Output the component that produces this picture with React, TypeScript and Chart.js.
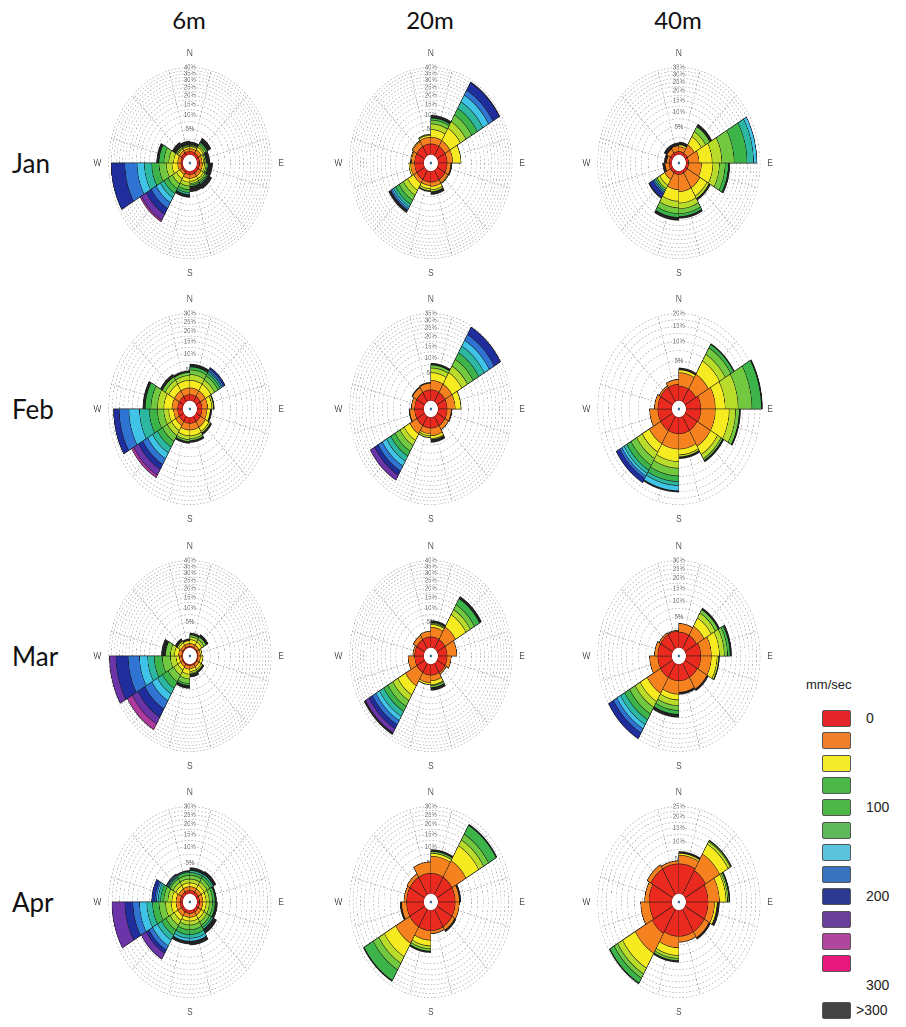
import React, { useEffect, useRef } from 'react';
import { Chart, registerables, RadialLinearScale } from 'chart.js';

// Radial axis whose radius grows with the square root of the frequency (area-true wind rose)
class SqrtRadialScale extends RadialLinearScale {
  static id = 'radialSqrt';
  getDistanceFromCenterForValue(value: number) {
    if (value === null || isNaN(value)) return NaN;
    const range = this.max - this.min || 1;
    const t = Math.max(0, (value - this.min) / range);
    return this.drawingArea * Math.sqrt(t);
  }
  getValueForDistanceFromCenter(distance: number) {
    const t = distance / (this.drawingArea || 1);
    return this.min + t * t * (this.max - this.min);
  }
}
Chart.register(...registerables, SqrtRadialScale);

// ---------------- data ----------------
const MONTHS = ['Jan', 'Feb', 'Mar', 'Apr'];
const DEPTHS = ['6m', '20m', '40m'];
const SECTORS = ['0-30', '30-60', '60-90', '90-120', '120-150', '150-180', '180-210', '210-240', '240-270', '270-300', '300-330', '330-360'];
const DIRECTION_LABELS = ['N', '', '', '', '', '', 'E', '', '', '', '', '', 'S', '', '', '', '', '', 'W', '', '', '', '', ''];
const SPEED_BINS = ['0-25', '25-50', '50-75', '75-100', '100-125', '125-150', '150-175', '175-200', '200-225', '225-250', '250-275', '275-300', '>300'];
const BIN_COLORS = ['#ea2a1e', '#f5821f', '#f6ea20', '#b9dc2b', '#72c83e', '#3cb44a', '#2bb7a0', '#3fc3e6', '#2f74d3', '#1f2e9c', '#6b34a8', '#ad3a9f', '#222222'];
const LEGEND_COLORS = ['#e4232b', '#f07f2b', '#f2ec2a', '#4db848', '#4db848', '#5cb85a', '#5bc3dc', '#3873c0', '#2c3b91', '#6a3f99', '#b0479c', '#e7197d', '#444444'];
const LEGEND_TICKS = ['0', '', '', '', '100', '', '', '', '200', '', '', '', '>300'];
const FREQ_MAX = [[40, 40, 35], [30, 35, 20], [40, 40, 30], [30, 30, 25]];
const GRID_STEP = 2.5;
const LABEL_STEP = 5;

// frequency (%) per sector (rows) and speed bin (columns)
const JAN_6M = [
  [0.58, 0.32, 0.26, 0.14, 0.15, 0, 0, 0, 0, 0, 0, 0, 0.49],
  [0.58, 0.45, 0.42, 0.32, 0.35, 0.38, 0, 0, 0, 0, 0, 0, 1.1],
  [0.58, 0.32, 0.26, 0.21, 0.23, 0, 0, 0, 0, 0, 0, 0, 0.8],
  [0.58, 0.39, 0.33, 0.3, 0.25, 0.18, 0, 0, 0, 0, 0, 0, 1.11],
  [0.58, 0.45, 0.42, 0.4, 0.36, 0.29, 0.2, 0, 0, 0, 0, 0, 1.14],
  [0.58, 0.45, 0.42, 0.4, 0.27, 0.29, 0, 0, 0, 0, 0, 0, 1.2],
  [0.58, 0.45, 0.58, 0.7, 0.83, 0.71, 0.51, 0, 0, 0, 0, 0, 0.83],
  [0.48, 0.3, 0.66, 1.06, 1.34, 1.63, 1.58, 2.16, 2.88, 3.28, 3.67, 1.12],
  [0.48, 0.42, 1.04, 1.43, 2.41, 3.06, 3.71, 4.36, 8.7, 12.04],
  [0.48, 0.42, 0.7, 1.1, 1.39, 1.68, 0, 0, 0, 0, 0, 0, 0.95],
  [0.58, 0.32, 0.26, 0.21, 0.23, 0, 0, 0, 0, 0, 0, 0, 0.9],
  [0.58, 0.32, 0.26, 0.14, 0.15, 0, 0, 0, 0, 0, 0, 0, 0.67],
];
const JAN_20M = [
  [1.6, 1.32, 1.98, 1.82, 1.38, 0.74, 0, 0, 0, 0, 0, 0, 1.16],
  [1.6, 1.32, 4.14, 2.94, 3.46, 3.97, 4.48, 4.99, 4.08, 6.92, 0, 0, 0.52],
  [1.6, 1.32, 2.56],
  [1.6, 0.8, 0.1, 0, 0, 0, 0, 0, 0, 0, 0, 0, 0.2],
  [1.6, 0.7, 0.2],
  [1.6, 0.8, 0.74, 0.46, 0, 0, 0, 0, 0, 0, 0, 0, 0.76],
  [1.6, 0.61, 0.71, 0.45, 0, 0, 0, 0, 0, 0, 0, 0, 0.24],
  [1.6, 0.8, 1.96, 1.73, 2.02, 1.9, 1.24, 0.86, 0.9, 0, 0, 0, 1.4],
  [1.6, 0.9, 0.42],
  [1.6, 0.7, 0.2],
  [1.6, 1.1, 0.21],
  [1.6, 1.32, 0.45, 0.24],
];
const JAN_40M = [
  [0.5, 0.51, 0.25, 0, 0, 0, 0, 0, 0, 0, 0, 0, 0.43],
  [0.5, 1.19, 1.89, 1.47, 1.72, 0, 0, 0, 0, 0, 0, 0, 0.96],
  [0.5, 1.69, 3.7, 3.95, 6.35, 8.51, 4.93, 2.63],
  [0.5, 2.24, 3.43, 2.58, 2.62, 1.65, 0, 0, 0, 0, 0, 0, 0.87],
  [0.5, 2.65, 2.45, 0.87, 0, 0, 0, 0, 0, 0, 0, 0, 0.62],
  [0.5, 2.65, 3.02, 1.89, 1.77, 1.14, 0, 0, 0, 0, 0, 0, 0.8],
  [0.5, 2.24, 2.86, 2.13, 2.1, 1.54, 0, 0, 0, 0, 0, 0, 1.23],
  [0.5, 0.9, 1.15, 0.81, 0.45, 0, 0.48, 0, 0.5, 1.38, 0, 0, 0.3],
  [0.5, 0.51, 0, 0, 0, 0, 0, 0, 0, 0, 0, 0, 0.39],
  [0.5, 0.28, 0, 0, 0, 0, 0, 0, 0, 0, 0, 0, 0.35],
  [0.5, 0.51, 0, 0, 0, 0, 0, 0, 0, 0, 0, 0, 0.53],
  [0.5, 0.63, 0, 0, 0, 0, 0, 0, 0, 0, 0, 0, 0.41],
];
const FEB_6M = [
  [0.68, 0.78, 1.25, 1.19, 1.16, 0.77, 0, 0, 0, 0, 0, 0, 0.82],
  [0.68, 0.78, 1.25, 0.98, 1.13, 0.75, 0.53, 0.27, 0.56, 0.59],
  [0.68, 0.78, 0.74, 0.34, 0, 0, 0, 0, 0, 0, 0, 0, 0.18],
  [0.68, 0.65, 0.55, 0, 0, 0, 0, 0, 0, 0, 0, 0, 0.31],
  [0.68, 0.78, 0.74, 0.34, 0, 0, 0, 0, 0, 0, 0, 0, 0.36],
  [0.68, 0.78, 0.9, 0.53, 0.38, 0, 0, 0, 0, 0, 0, 0, 0.41],
  [0.68, 0.78, 0.9, 0.72, 0.4, 0, 0, 0, 0, 0, 0, 0, 0.42],
  [0.68, 0.53, 0.83, 1.04, 1.49, 1.79, 2.08, 2.37, 2.67, 2.52, 3.21, 1.47],
  [0.68, 0.53, 0.83, 1.04, 1.73, 2.7, 4.03, 5.34, 5.83, 3.8],
  [0.68, 0.78, 1.62, 1.73, 2.11, 2.16, 0, 0, 0, 0, 0, 0, 1.02],
  [0.68, 0.78, 1.25, 0.98, 0.89, 0, 0, 0, 0, 0, 0, 0, 0.73],
  [0.68, 0.78, 1.25, 0.98, 0.66, 0, 0, 0, 0, 0, 0, 0, 0.47],
];
const FEB_20M = [
  [1.4, 1.75, 1.9, 1.42, 0.93, 0, 0, 0, 0, 0, 0, 0, 0.66],
  [1.4, 1.75, 3.63, 2.69, 3.14, 3.58, 4.03, 3.9, 4.24, 5.95],
  [1.4, 1.75, 1.64],
  [1.4, 0.79, 0, 0, 0, 0, 0, 0, 0, 0, 0, 0, 0.18],
  [1.4, 0.79],
  [1.4, 1.34, 0.62, 0.22, 0, 0, 0, 0, 0, 0, 0, 0, 0.7],
  [1.4, 0.97, 0.38, 0.41],
  [1.4, 1.75, 1.9, 1.72, 2.33, 2.27, 2.52, 2.77, 3.02, 2.71, 3.49],
  [1.4, 0.97, 0, 0, 0, 0, 0, 0, 0, 0, 0, 0, 0.19],
  [1.4, 0.62],
  [1.4, 0.97, 0, 0, 0, 0, 0, 0, 0, 0, 0, 0, 0.19],
  [1.4, 1.15, 0, 0, 0, 0, 0, 0, 0, 0, 0, 0, 0.19],
];
const FEB_40M = [
  [1.15, 1.74, 0.47, 0, 0, 0, 0, 0, 0, 0, 0, 0, 0.34],
  [1.15, 2.38, 3.2, 1.98, 2.24, 1.2, 0, 0, 0, 0, 0, 0, 0.33],
  [1.46, 2.59, 2.45, 4.16, 5.54, 4.42, 0, 0, 0, 0, 0, 0, 0.6],
  [1.46, 2.59, 3.64, 2.11, 1.25, 0, 0, 0, 0, 0, 0, 0, 0.5],
  [1.35, 2.7, 2.0, 1.15, 0.49, 0, 0, 0, 0, 0, 0, 0, 0.5],
  [1.35, 2.18, 1.08, 0.39, 0, 0, 0, 0, 0, 0, 0, 0, 0.41],
  [1.35, 2.18, 2.52, 1.64, 2.11, 1.75, 1.25, 1.84, 0, 0, 0, 0, 0.5],
  [1.35, 2.18, 1.88, 1.79, 2.05, 1.7, 1.22, 0.95, 0.99, 1.73],
  [1.35, 1.24],
  [1.35, 0.45],
  [1.35, 0.22],
  [1.35, 0.57],
];
const MAR_6M = [
  [0.4, 0.28, 0.48, 0.44, 0.34, 0, 0, 0, 0, 0, 0, 0, 0.37],
  [0.4, 0.28, 0.48, 0.44, 0.52, 0, 0, 0, 0, 0, 0, 0, 0.59],
  [0.4, 0.28, 0.22],
  [0.4, 0.28, 0.35],
  [0.4, 0.28, 0.35, 0.27, 0, 0, 0, 0, 0, 0, 0, 0, 0.3],
  [0.4, 0.28, 0.35, 0.27, 0.15, 0, 0, 0, 0, 0, 0, 0, 0.49],
  [0.4, 0.38, 0.66, 0.86, 1.06, 0.48, 0, 0, 0, 0, 0, 0, 0.78],
  [0.4, 0.28, 0.48, 0.96, 1.73, 2.24, 2.38, 3.2, 4.72, 5.52, 4.99, 4.79],
  [0.4, 0.28, 0.48, 1.15, 2.32, 3.12, 3.07, 4.56, 7.73, 10.02, 6.08],
  [0.4, 0.38, 0.66, 0.86, 1.3, 0, 0, 0, 0, 0, 0, 0, 1.3],
  [0.4, 0.28, 0.35, 0.27, 0, 0, 0, 0, 0, 0, 0, 0, 0.47],
  [0.4, 0.28, 0.35, 0, 0, 0, 0, 0, 0, 0, 0, 0, 0.27],
];
const MAR_20M = [
  [1.6, 2.0, 0.76, 0.27, 0.28, 0, 0, 0, 0, 0, 0, 0, 0.58],
  [1.6, 3.3, 5.1, 2.54, 2.83, 3.78, 0, 0, 0, 0, 0, 0, 1.58],
  [1.6, 2.5],
  [1.6, 0.9],
  [1.6, 0.34],
  [1.6, 1.1, 0.9, 0.24, 0.51, 0, 0, 0, 0, 0, 0, 0, 0.83],
  [1.6, 1.54, 0.46],
  [1.6, 3.58, 3.65, 2.83, 3.22, 3.07, 3.36, 3.02, 3.22, 3.42, 3.62, 0, 1.5],
  [1.6, 1.54],
  [1.6, 0.34],
  [1.6, 0.9],
  [1.6, 1.1],
];
const MAR_40M = [
  [1.88, 1.59],
  [1.88, 2.01, 2.46, 1.76, 1.3, 0, 0, 0, 0, 0, 0, 0, 0.68],
  [2.19, 2.61, 2.7, 1.91, 1.39, 1.11, 0, 0, 0, 0, 0, 0, 0.77],
  [2.19, 2.61, 1.83, 0.58, 0, 0, 0, 0, 0, 0, 0, 0, 0.3],
  [2.03, 2.77, 0, 0, 0, 0, 0, 0, 0, 0, 0, 0, 0.49],
  [2.03, 2.3, 0, 0, 0, 0, 0, 0, 0, 0, 0, 0, 0.47],
  [2.03, 2.77, 1.55, 1.76, 1.64, 1.42, 0, 0, 0, 0, 0, 0, 1.13],
  [2.03, 4.05, 3.0, 2.46, 3.17, 3.09, 2.88, 2.57, 2.72, 4.05],
  [2.03, 1.86],
  [2.03, 0.67],
  [2.03, 0.32],
  [2.03, 0.16],
];
const APR_6M = [
  [0.43, 0.34, 0.43, 0.53, 0.62, 0.53, 0.38, 0, 0, 0, 0, 0, 0.62],
  [0.43, 0.34, 0.49, 0.54, 0.64, 0.54, 0.39, 0, 0, 0, 0, 0, 0.74],
  [0.43, 0.34, 0.43, 0.53, 0.62, 0.53, 0, 0, 0, 0, 0, 0, 0.38],
  [0.43, 0.34, 0.43, 0.53, 0.62, 0.53, 0, 0, 0, 0, 0, 0, 0.59],
  [0.43, 0.34, 0.43, 0.53, 0.62, 0.53, 0.38, 0, 0, 0, 0, 0, 1.07],
  [0.43, 0.34, 0.43, 0.53, 0.8, 0.95, 0.86, 0.71, 0, 0, 0, 0, 1.03],
  [0.43, 0.34, 0.43, 0.53, 0.8, 0.95, 0.86, 0.71, 0, 0, 0, 0, 0.77],
  [0.43, 0.44, 0.59, 0.9, 1.12, 1.33, 1.55, 2.08, 1.67, 1.44, 2.75],
  [0.43, 0.44, 0.72, 1.11, 1.63, 2.02, 2.08, 3.11, 3.17, 4.5, 8.45],
  [0.43, 0.44, 0.59, 0.74, 0.89, 0.82, 0.68, 0.48, 0.5, 1.08],
  [0.43, 0.34, 0.43, 0.53, 0.62, 0.35, 0.18, 0.19, 0.2, 0, 0, 0, 0.2],
  [0.43, 0.34, 0.43, 0.53, 0.62, 0.53, 0.19, 0, 0, 0, 0, 0, 0.2],
];
const APR_20M = [
  [2.7, 4.21, 0.89, 0, 0.62, 0, 0, 0, 0, 0, 0, 0, 0.65],
  [2.7, 4.8, 6.37, 3.0, 3.3, 5.6, 0, 0, 0, 0, 0, 0, 0.74],
  [2.7, 0.98, 0, 0, 0, 0, 0, 0, 0, 0, 0, 0, 0.43],
  [2.7, 0.98],
  [2.7, 0.77, 0, 0, 0, 0, 0, 0, 0, 0, 0, 0, 0.42],
  [2.7, 0.57],
  [2.7, 2.1, 1.55, 0.86, 0.7, 0, 0, 0, 0, 0, 0, 0, 0.52],
  [2.7, 4.8, 5.57, 3.36, 3.74, 6.8, 0, 0, 0, 0, 0, 0, 0.68],
  [2.7, 1.19, 0, 0, 0, 0, 0, 0, 0, 0, 0, 0, 0.44],
  [2.7, 0.57],
  [2.7, 0.77],
  [2.7, 2.59],
];
const APR_40M = [
  [4.0, 2.0, 0.5, 0, 0, 0, 0, 0, 0, 0, 0, 0, 0.52],
  [3.61, 4.8, 3.84, 1.07, 0.4, 0, 0, 0, 0, 0, 0, 0, 0.34],
  [3.24, 3.01, 2.16, 0.59, 0.5, 0, 0, 0, 0, 0, 0, 0, 0.42],
  [3.24, 1.6, 0.68, 0, 0, 0, 0, 0, 0, 0, 0, 0, 0.73],
  [3.24, 1.38, 0, 0, 0, 0, 0, 0, 0, 0, 0, 0, 0.44],
  [3.24, 1.17],
  [3.24, 2.52, 2.08, 0.86, 0.7, 0, 0, 0, 0, 0, 0, 0, 0.52],
  [3.61, 6.0, 6.39, 2.92, 2.24, 2.84, 0, 0, 0, 0, 0, 0, 0.5],
  [3.24, 2.28],
  [3.42, 0.99],
  [4.0, 1.06],
  [4.0, 0.62],
];
const ROSES = [
  [JAN_6M, JAN_20M, JAN_40M],
  [FEB_6M, FEB_20M, FEB_40M],
  [MAR_6M, MAR_20M, MAR_40M],
  [APR_6M, APR_20M, APR_40M],
];

// ---------------- layout ----------------
const COL_X = [189, 430, 678];
const ROW_Y = [163, 409, 656, 902];
const BOX = 232;
const SQUEEZE_X = 0.85;
const HOLE_FRACTION = 0.09;
const SANS = '"Liberation Sans", Arial, sans-serif';
const TITLE_FONT = 'Lato, "Open Sans", sans-serif';

const calmHolePlugin = {
  id: 'calmHole',
  afterDatasetsDraw(chart: any) {
    const s = chart.scales.r;
    const ctx = chart.ctx;
    const r0 = s.drawingArea * HOLE_FRACTION;
    ctx.save();
    ctx.beginPath();
    ctx.arc(s.xCenter, s.yCenter, r0, 0, Math.PI * 2);
    ctx.fillStyle = '#ffffff';
    ctx.fill();
    ctx.lineWidth = 0.8;
    ctx.strokeStyle = '#a01818';
    ctx.stroke();
    ctx.beginPath();
    ctx.arc(s.xCenter, s.yCenter, 1.4, 0, Math.PI * 2);
    ctx.fillStyle = '#3d6c9e';
    ctx.fill();
    ctx.restore();
  },
};

function Rose({ sectors, max }: { sectors: number[][]; max: number }) {
  const ref = useRef<HTMLCanvasElement>(null);
  useEffect(() => {
    if (!ref.current) return;
    const table = sectors.map((s) => SPEED_BINS.map((_, b) => s[b] ?? 0));
    const datasets = SPEED_BINS.map((bin, b) => ({
      label: bin,
      data: table.map((row) => row.slice(0, b + 1).reduce((a, c) => a + c, 0)),
      backgroundColor: BIN_COLORS[b],
      borderColor: '#1c1c1c',
      borderWidth: 0.6,
    }));
    const tickValues: number[] = [0];
    for (let t = GRID_STEP; t <= max + 1e-9; t += GRID_STEP) tickValues.push(t);
    const chart = new Chart(ref.current, {
      type: 'polarArea',
      data: { labels: DIRECTION_LABELS, datasets },
      plugins: [calmHolePlugin],
      options: {
        animation: false,
        responsive: true,
        maintainAspectRatio: false,
        devicePixelRatio: 2,
        events: [],
        layout: { padding: 0 },
        plugins: { legend: { display: false }, tooltip: { enabled: false } },
        scales: {
          r: {
            type: 'radialSqrt',
            min: 0,
            max,
            startAngle: 0,
            afterBuildTicks: (scale: any) => {
              scale.ticks = tickValues.map((v) => ({ value: v }));
            },
            ticks: {
              display: true,
              callback: (v: any) => (v > 0 && Math.abs(v / LABEL_STEP - Math.round(v / LABEL_STEP)) < 1e-6 ? `${v}%` : ''),
              font: { size: 7, family: SANS },
              color: '#6a6a6a',
              showLabelBackdrop: true,
              backdropColor: 'rgba(255,255,255,0.65)',
              backdropPadding: 0,
            },
            grid: { circular: true, color: '#a3a3a3', lineWidth: 0.6 },
            border: { dash: [2, 2] },
            angleLines: {
              display: true,
              color: (ctx: any) => (ctx.index % 2 === 1 ? '#9d9d9d' : 'rgba(0,0,0,0)'),
              lineWidth: 0.7,
              borderDash: [2, 2],
            },
            pointLabels: {
              display: true,
              centerPointLabels: false,
              font: { size: 10, family: SANS },
              color: '#555555',
              padding: 5,
            },
          } as any,
        },
      } as any,
    });
    return () => chart.destroy();
  }, [sectors, max]);
  return <canvas ref={ref} />;
}

export default function App() {
  return (
    <div style={{ position: 'absolute', left: 0, top: 0, width: 906, height: 1027, background: '#ffffff', overflow: 'hidden' }}>
      {DEPTHS.map((d, c) => (
        <div key={d} style={{ position: 'absolute', left: COL_X[c] - 60, width: 120, top: 3, textAlign: 'center', fontFamily: TITLE_FONT, fontSize: 24, color: '#111', lineHeight: '34px' }}>
          {d}
        </div>
      ))}
      {MONTHS.map((m, r) => (
        <div key={m} style={{ position: 'absolute', left: 12, top: ROW_Y[r] - 17, fontFamily: TITLE_FONT, fontSize: 26, color: '#111', lineHeight: '34px' }}>
          {m}
        </div>
      ))}
      {ROSES.map((row, r) =>
        row.map((sectors, c) => (
          <div
            key={`${r}-${c}`}
            title={`${MONTHS[r]} ${DEPTHS[c]} (${SECTORS.length} sectors)`}
            style={{
              position: 'absolute',
              left: COL_X[c] - BOX / 2,
              top: ROW_Y[r] - BOX / 2,
              width: BOX,
              height: BOX,
              transform: `scale(${SQUEEZE_X}, 1)`,
              transformOrigin: '50% 50%',
            }}
          >
            <Rose sectors={sectors} max={FREQ_MAX[r][c]} />
          </div>
        ))
      )}
      <div style={{ position: 'absolute', left: 806, top: 677, fontFamily: SANS, fontSize: 13, color: '#222' }}>mm/sec</div>
      {LEGEND_COLORS.map((col, i) => {
        const cy = i < 12 ? 718 + 22.3 * i : 1010;
        return (
          <React.Fragment key={i}>
            <div style={{ position: 'absolute', left: 822, top: cy - 8, width: 27, height: 15, background: col, border: '1px solid #555', borderRadius: 2 }} />
            {LEGEND_TICKS[i] && (
              <div style={{ position: 'absolute', left: i === 12 ? 856 : 866, top: cy - 9, fontFamily: SANS, fontSize: 14, color: '#222', lineHeight: '18px' }}>
                {LEGEND_TICKS[i]}
              </div>
            )}
          </React.Fragment>
        );
      })}
      <div style={{ position: 'absolute', left: 866, top: 985 - 9, fontFamily: SANS, fontSize: 14, color: '#222', lineHeight: '18px' }}>300</div>
    </div>
  );
}
